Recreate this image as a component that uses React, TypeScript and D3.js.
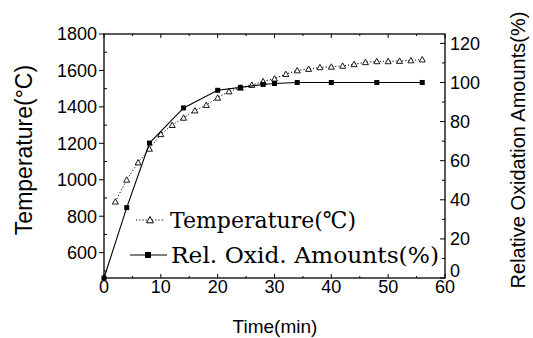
import * as d3 from "d3";
import React from "react";

// time (min) for each series
const tempTimes = [2, 4, 6, 8, 10, 12, 14, 16, 18, 20, 22, 24, 26, 28, 30, 32, 34, 36, 38, 40, 42, 44, 46, 48, 50, 52, 54, 56];
const tempValues = [880, 1000, 1095, 1170, 1250, 1300, 1340, 1380, 1410, 1450, 1485, 1505, 1520, 1540, 1555, 1580, 1600, 1608, 1617, 1620, 1625, 1634, 1645, 1650, 1650, 1652, 1655, 1660];

const oxidTimes = [0, 4, 8, 14, 20, 24, 28, 30, 34, 40, 48, 56];
const oxidValues = [0, 36, 69, 87, 96, 97.5, 99, 99.5, 100, 100, 100, 100];

const xTicks = [0, 10, 20, 30, 40, 50, 60];
const leftTicks = [600, 800, 1000, 1200, 1400, 1600, 1800];
const rightTicks = [0, 20, 40, 60, 80, 100, 120];

const W = 533;
const H = 338;
const margin = { top: 34, right: 88, bottom: 60, left: 104 };

const sans = "'Liberation Sans', Arial, sans-serif";
const serif = "'DejaVu Serif', serif";

const App: React.FC = () => {
  const x0 = margin.left;
  const x1 = W - margin.right;
  const y0 = H - margin.bottom;
  const y1 = margin.top;

  const x = d3.scaleLinear().domain([0, 60]).range([x0, x1]);
  const yL = d3.scaleLinear().domain([461, 1800]).range([y0, y1]);
  const yR = d3.scaleLinear().domain([0, 124.8]).range([y0, y1]);

  const tempPts = tempTimes.map((t, i) => [x(t), yL(tempValues[i])] as [number, number]);
  const oxidPts = oxidTimes.map((t, i) => [x(t), yR(oxidValues[i])] as [number, number]);
  const line = d3.line();

  const tri = (cx: number, cy: number, s = 3) =>
    `M${cx},${cy - s}L${cx + s},${cy + s * 0.8}L${cx - s},${cy + s * 0.8}Z`;

  const xMinor = d3.range(5, 60, 10);
  const leftMinor = d3.range(500, 1800, 200);
  const rightMinor = d3.range(10, 121, 20);

  return (
    <svg width={W} height={H} style={{ position: "absolute", left: 0, top: 0, background: "#fff" }}>
      {/* frame */}
      <rect x={x0} y={y1} width={x1 - x0} height={y0 - y1} fill="none" stroke="#000" strokeWidth={1.3} />

      {/* bottom & top ticks (inward) */}
      {xTicks.map((t) => (
        <g key={"xt" + t}>
          <line x1={x(t)} x2={x(t)} y1={y0} y2={y0 - 4} stroke="#000" />
          <line x1={x(t)} x2={x(t)} y1={y1} y2={y1 + 4} stroke="#000" />
          <text x={x(t)} y={293} textAnchor="middle" fontFamily={sans} fontSize={18}>{t}</text>
        </g>
      ))}
      {xMinor.map((t) => (
        <g key={"xm" + t}>
          <line x1={x(t)} x2={x(t)} y1={y0} y2={y0 - 2} stroke="#000" />
          <line x1={x(t)} x2={x(t)} y1={y1} y2={y1 + 2} stroke="#000" />
        </g>
      ))}

      {/* left axis */}
      {leftTicks.map((v) => (
        <g key={"lt" + v}>
          <line x1={x0} x2={x0 - 5} y1={yL(v)} y2={yL(v)} stroke="#000" />
          <text x={97} y={yL(v)} dy="0.36em" textAnchor="end" fontFamily={sans} fontSize={18}>{v}</text>
        </g>
      ))}
      {leftMinor.map((v) => (
        <line key={"lm" + v} x1={x0} x2={x0 + 3} y1={yL(v)} y2={yL(v)} stroke="#000" />
      ))}

      {/* right axis */}
      {rightTicks.map((v) => (
        <g key={"rt" + v}>
          <line x1={x1} x2={x1 - 5} y1={yR(v)} y2={yR(v)} stroke="#000" />
          <text x={450} y={Math.min(yR(v), 271)} dy="0.36em" textAnchor="start" fontFamily={sans} fontSize={18}>{v}</text>
        </g>
      ))}
      {rightMinor.map((v) => (
        <line key={"rm" + v} x1={x1} x2={x1 - 3} y1={yR(v)} y2={yR(v)} stroke="#000" />
      ))}

      {/* temperature series */}
      <path d={line(tempPts) || ""} fill="none" stroke="#000" strokeWidth={1} strokeDasharray="1.2,2" />
      {tempPts.map(([cx, cy], i) => (
        <path key={"tp" + i} d={tri(cx, cy)} fill="#fff" stroke="#000" strokeWidth={0.9} />
      ))}

      {/* oxidation series */}
      <path d={line(oxidPts) || ""} fill="none" stroke="#000" strokeWidth={1.1} />
      {oxidPts.map(([cx, cy], i) => (
        <rect key={"op" + i} x={cx - 2.5} y={cy - 2.5} width={5} height={5} fill="#000" />
      ))}

      {/* legend */}
      <line x1={136} x2={165} y1={220} y2={220} stroke="#000" strokeDasharray="1.2,2" />
      <path d={tri(150, 220, 3.5)} fill="#fff" stroke="#000" strokeWidth={1} />
      <text x={170} y={228} fontFamily={serif} fontSize={23} textLength={186} lengthAdjust="spacingAndGlyphs">
        Temperature(℃)
      </text>
      <line x1={130} x2={167} y1={255} y2={255} stroke="#000" />
      <rect x={145} y={252} width={6} height={6} fill="#000" />
      <text x={171} y={263} fontFamily={serif} fontSize={23} textLength={268} lengthAdjust="spacingAndGlyphs">
        Rel. Oxid. Amounts(%)
      </text>

      {/* axis titles */}
      <text x={275} y={333} textAnchor="middle" fontFamily={sans} fontSize={19}>Time(min)</text>
      <text transform="translate(32,150) rotate(-90)" textAnchor="middle" fontFamily={sans} fontSize={23}>
        Temperature(°C)
      </text>
      <text transform="translate(525,150) rotate(-90)" textAnchor="middle" fontFamily={sans} fontSize={20}>
        Relative Oxidation Amounts(%)
      </text>
    </svg>
  );
};

export default App;
